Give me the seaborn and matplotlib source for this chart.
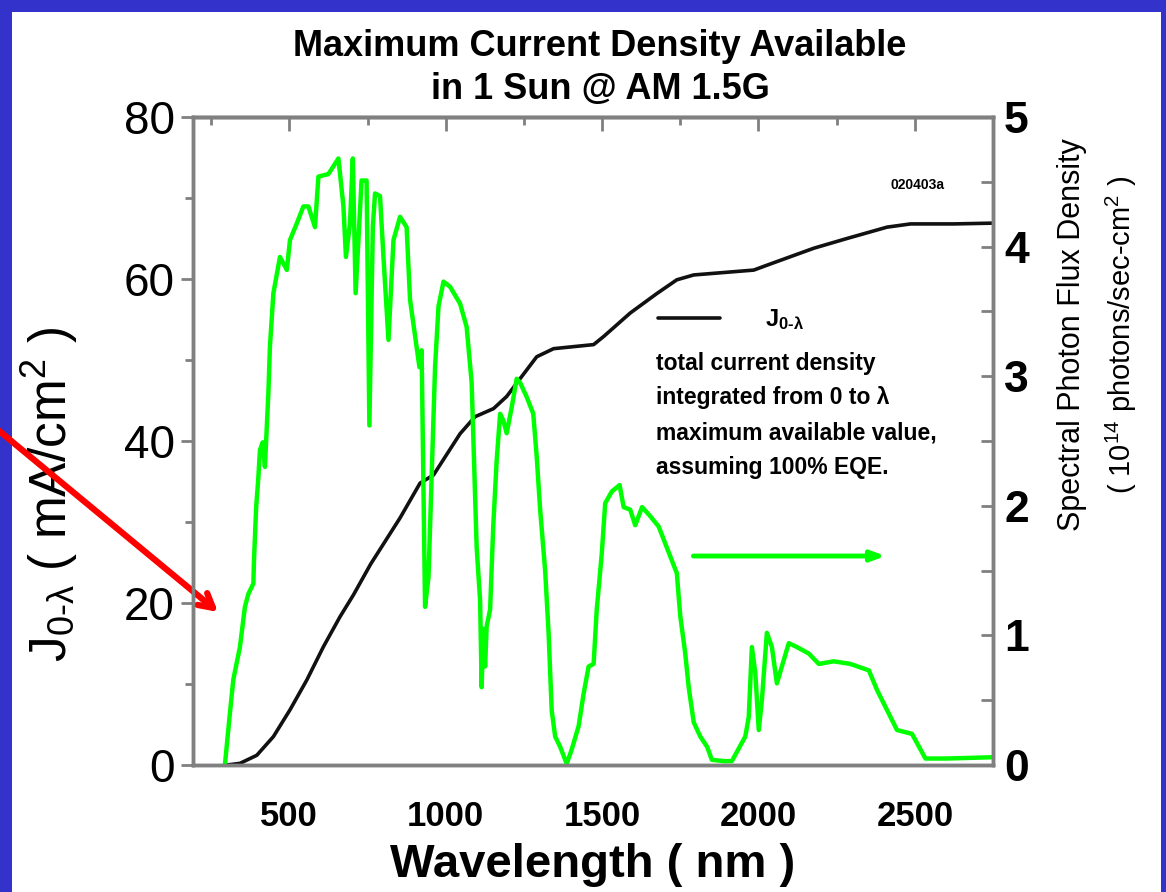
import matplotlib
matplotlib.use("Agg")
import matplotlib.pyplot as plt
import seaborn as sns
import pandas as pd
from matplotlib.patches import Rectangle
from matplotlib.ticker import MultipleLocator

# ---------------- data ----------------
# Cumulative current density J(0-lambda), mA/cm^2 (left axis)
j_wavelength = [300, 342, 396, 449, 502, 556, 609, 662, 705, 760, 854, 918, 961,
                1046, 1094, 1153, 1195, 1238, 1291, 1345, 1473, 1505, 1590, 1675,
                1739, 1793, 1985, 2027, 2177, 2283, 2411, 2486, 2625, 2753]
j_current = [0.0, 0.2, 1.2, 3.5, 6.8, 10.5, 14.6, 18.3, 21.0, 24.8, 30.5, 34.8, 35.8,
             40.9, 43.0, 44.0, 45.5, 47.7, 50.4, 51.4, 51.9, 52.9, 55.8, 58.2,
             59.9, 60.5, 61.1, 61.7, 63.8, 65.0, 66.4, 66.8, 66.8, 66.9]

# Spectral photon flux density, 1e14 photons/sec-cm^2 (right axis)
flux_wavelength = [294, 310, 321, 342, 358, 369, 385, 387, 394, 401, 406, 415, 422, 426,
                   433, 438, 449, 470, 492, 502, 524, 545, 561, 582, 593, 625, 657, 673,
                   681, 694, 703, 712, 731, 747, 756, 767, 774, 790, 801, 817, 833, 854,
                   875, 886, 907, 916, 923, 934, 945, 966, 977, 993, 1014, 1046, 1067,
                   1083, 1089, 1099, 1110, 1115, 1120, 1126, 1131, 1142, 1147, 1152, 1163,
                   1174, 1184, 1195, 1211, 1227, 1238, 1259, 1280, 1291, 1302, 1318, 1329,
                   1339, 1350, 1366, 1387, 1403, 1425, 1441, 1457, 1473, 1483, 1499, 1510,
                   1531, 1556, 1569, 1590, 1606, 1628, 1654, 1681, 1702, 1723, 1739, 1750,
                   1766, 1777, 1793, 1814, 1836, 1851, 1889, 1915, 1958, 1969, 1979, 1990,
                   2001, 2011, 2027, 2043, 2059, 2075, 2097, 2123, 2161, 2193, 2241, 2294,
                   2353, 2379, 2406, 2443, 2491, 2534, 2603, 2752]
flux_value = [0.00, 0.40, 0.66, 0.91, 1.22, 1.32, 1.40, 1.58, 1.99, 2.22, 2.43, 2.49, 2.30, 2.51,
              2.87, 3.23, 3.64, 3.92, 3.82, 4.05, 4.18, 4.31, 4.31, 4.15, 4.54, 4.56, 4.68, 4.31,
              3.92, 4.18, 4.68, 3.64, 4.51, 4.51, 2.62, 4.15, 4.41, 4.39, 3.92, 3.28, 4.05, 4.23,
              4.15, 3.59, 3.23, 3.07, 3.20, 1.22, 1.45, 3.07, 3.54, 3.73, 3.69, 3.56, 3.38,
              2.95, 2.48, 1.68, 1.27, 0.60, 1.05, 0.76, 1.07, 1.20, 1.53, 1.84, 2.35,
              2.71, 2.66, 2.56, 2.76, 2.98, 2.95, 2.84, 2.71, 2.38, 1.97, 1.50, 1.02,
              0.42, 0.22, 0.14, 0.01, 0.12, 0.30, 0.55, 0.76, 0.78, 1.20, 1.63, 2.02,
              2.11, 2.16, 1.99, 1.97, 1.85, 1.99, 1.92, 1.84, 1.71, 1.58, 1.48, 1.15,
              0.86, 0.60, 0.33, 0.22, 0.14, 0.04, 0.03, 0.03, 0.22, 0.37, 0.91, 0.71,
              0.27, 0.50, 1.02, 0.91, 0.63, 0.76, 0.94, 0.91, 0.86, 0.78, 0.80, 0.78,
              0.73, 0.58, 0.45, 0.27, 0.24, 0.05, 0.05, 0.06]

x_ticks = [500, 1000, 1500, 2000, 2500]
left_ticks = [0, 20, 40, 60, 80]
right_ticks = [0, 1, 2, 3, 4, 5]

title_lines = ["Maximum Current Density Available", "in 1 Sun @ AM 1.5G"]
legend_lines = ["total current density", "integrated from 0 to \u03bb",
                "maximum available value,", "assuming 100% EQE."]

# annotation arrows (left-axis data units for the green one)
green_arrow_start = (1792, 25.8)
green_arrow_end = (2406, 25.8)

# ---------------- style ----------------
sns.set_style("white")
FONT = ["Liberation Sans", "DejaVu Sans"]
plt.rcParams["font.family"] = FONT
plt.rcParams["mathtext.default"] = "regular"
plt.rcParams["text.color"] = "black"
plt.rcParams["axes.labelcolor"] = "black"

BLUE = "#3333CC"
GREEN = "#00FF00"
SPINE = "#808080"
SUB = "0\u2010\u03bb"

fig = plt.figure(figsize=(11.66, 8.92), dpi=100, facecolor=BLUE)
fig.patches.append(Rectangle((12 / 1166, 0), (1161 - 12) / 1166, (892 - 12) / 892,
                             transform=fig.transFigure, facecolor="white",
                             edgecolor="none", zorder=-10))

ax = fig.add_axes([193 / 1166, 127 / 892, 800 / 1166, 648 / 892])
ax.set_facecolor("white")
ax2 = ax.twinx()

df_j = pd.DataFrame({"wavelength": j_wavelength, "J": j_current})
df_f = pd.DataFrame({"wavelength": flux_wavelength, "flux": flux_value})

sns.lineplot(data=df_j, x="wavelength", y="J", ax=ax, color="#111111", lw=2.6,
             sort=False, estimator=None)
sns.lineplot(data=df_f, x="wavelength", y="flux", ax=ax2, color=GREEN, lw=3.2,
             sort=False, estimator=None)

ax.set_xlim(192, 2750)
ax.set_ylim(0, 80)
ax2.set_ylim(0, 5)

for a in (ax, ax2):
    for s in a.spines.values():
        s.set_color(SPINE)
        s.set_linewidth(2.5)
        s.set_visible(True)

ax.set_xticks(x_ticks)
ax.xaxis.set_minor_locator(MultipleLocator(250))
ax.set_yticks(left_ticks)
ax.yaxis.set_minor_locator(MultipleLocator(10))
ax2.set_yticks(right_ticks)
ax2.yaxis.set_minor_locator(MultipleLocator(0.5))

ax.tick_params(axis="x", which="major", direction="out", length=10, width=2,
               color=SPINE, pad=15, labelsize=25, labelcolor="black")
ax.tick_params(axis="x", which="minor", direction="out", length=6, width=2, color=SPINE)
ax.tick_params(axis="y", which="major", direction="out", length=9, width=2,
               color=SPINE, pad=4, labelsize=33, labelcolor="black")
ax.tick_params(axis="y", which="minor", direction="out", length=6, width=2, color=SPINE)
ax2.tick_params(axis="y", which="major", direction="in", length=9, width=2,
                color=SPINE, pad=8, labelsize=32, labelcolor="black")
ax2.tick_params(axis="y", which="minor", direction="in", length=9, width=2, color=SPINE)
for lab in ax.get_xticklabels():
    lab.set_fontweight("bold")
for lab in ax2.get_yticklabels():
    lab.set_fontweight("bold")

top = ax.secondary_xaxis("top")
top.set_xticks(x_ticks)
top.xaxis.set_minor_locator(MultipleLocator(250))
top.tick_params(axis="x", which="major", direction="in", length=10, width=2,
                color=SPINE, labeltop=False)
top.tick_params(axis="x", which="minor", direction="in", length=6, width=2, color=SPINE)
top.spines["top"].set_color(SPINE)
top.spines["top"].set_linewidth(2.5)

ax.set_xlabel("Wavelength ( nm )", fontsize=34, fontweight="bold", va="center")
ax.xaxis.set_label_coords(0.5, -0.155)
ax.set_ylabel("J$_{" + SUB + "}$ ( mA/cm$^{2}$ )", fontsize=37, va="center")
ax.yaxis.set_label_coords(-0.179, 0.417)
ax2.set_ylabel("")

ax2.text(1.099, 0.664, "Spectral Photon Flux Density", transform=ax2.transAxes,
         rotation=90, ha="center", va="center", fontsize=22)
ax2.text(1.161, 0.664, "( 10$^{14}$ photons/sec-cm$^{2}$ )", transform=ax2.transAxes,
         rotation=90, ha="center", va="center", fontsize=21)

fig.text(600 / 1166, 1 - 46 / 892, title_lines[0], ha="center", va="center",
         fontsize=26, fontweight="bold")
fig.text(600 / 1166, 1 - 90 / 892, title_lines[1], ha="center", va="center",
         fontsize=26, fontweight="bold")

# legend-like annotation
ax.plot([0.581, 0.659], [0.690, 0.690], transform=ax.transAxes, color="#111111", lw=2.6)
ax.text(0.715, 0.688, "J$_{" + SUB + "}$", transform=ax.transAxes, fontsize=17,
        fontweight="bold", va="center", ha="left")
for i, line in enumerate(legend_lines):
    ax.text(0.579, 0.620 - i * 0.0535, line, transform=ax.transAxes, fontsize=16.5,
            fontweight="bold", va="center", ha="left")
ax.text(0.906, 0.895, "020403a", transform=ax.transAxes, fontsize=10,
        fontweight="bold", va="center", ha="center")

# green arrow pointing to right axis
ax.annotate("", xy=green_arrow_end, xytext=green_arrow_start,
            arrowprops=dict(arrowstyle="-|>,head_length=0.8,head_width=0.3",
                            color=GREEN, lw=3.5, shrinkA=0, shrinkB=0))

# red arrow from outside pointing toward left axis
ax.annotate("", xy=(218 / 1166, 1 - 612 / 892), xycoords="figure fraction",
            xytext=(-0.01, 1 - 422 / 892), textcoords="figure fraction",
            arrowprops=dict(arrowstyle="->,head_length=1.0,head_width=0.55",
                            color="red", lw=4.5, shrinkA=0, shrinkB=0),
            annotation_clip=False)

fig.savefig("out.png", dpi=100, facecolor=BLUE)
